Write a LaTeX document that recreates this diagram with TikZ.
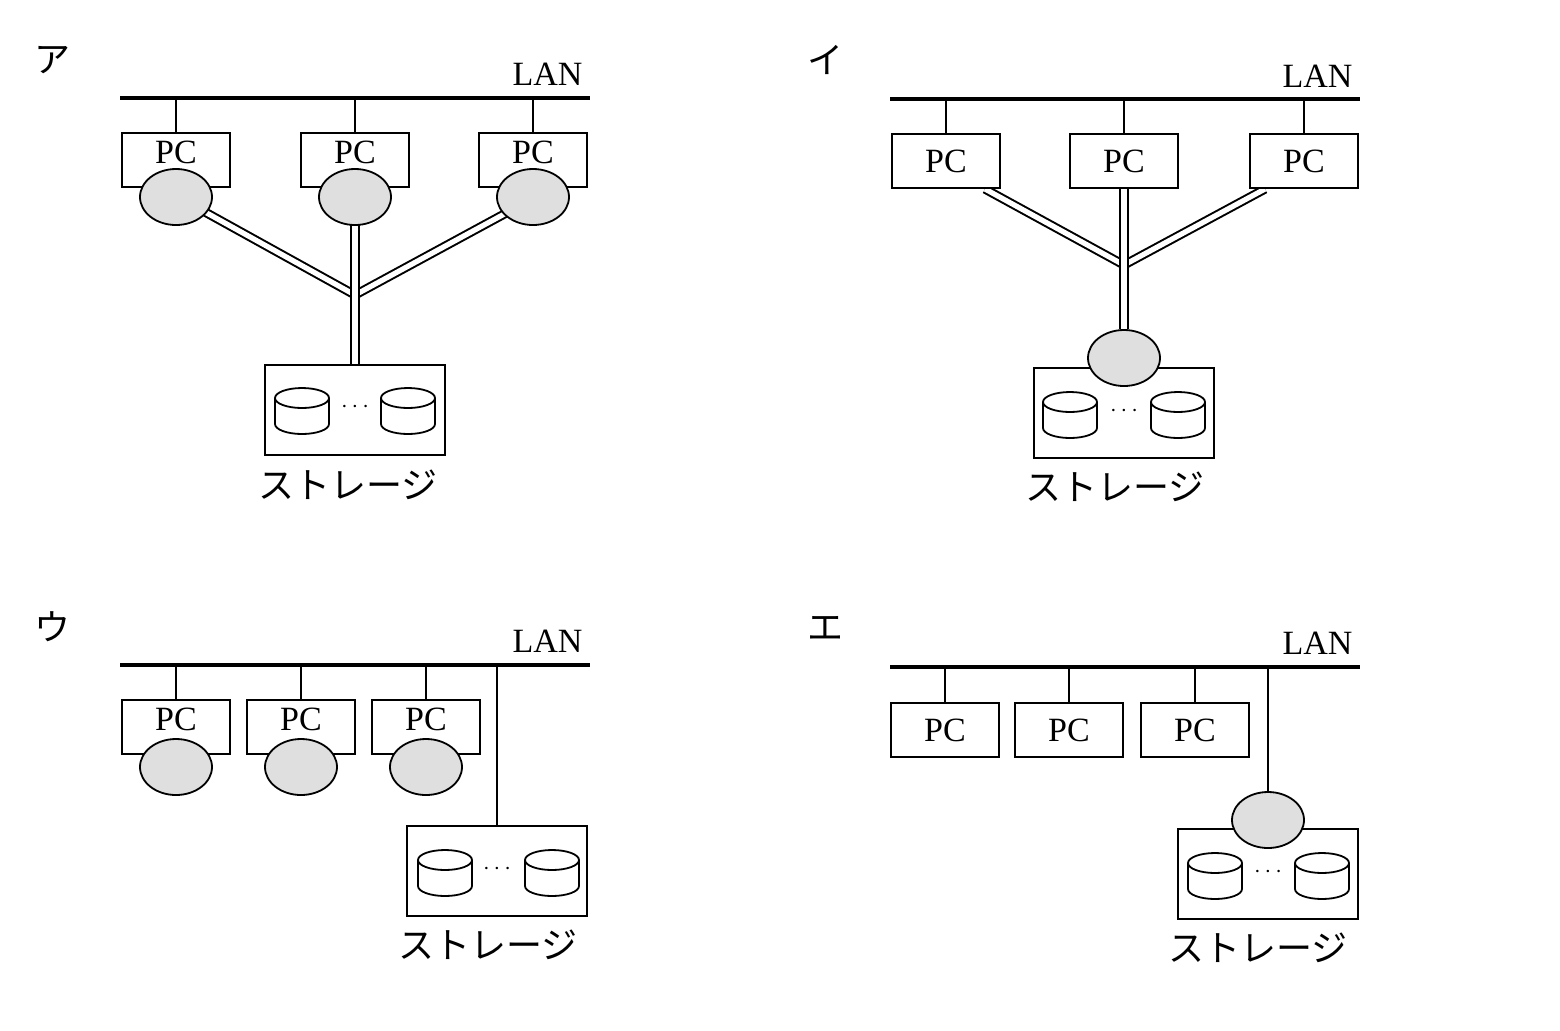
\documentclass[tikz,border=0pt]{standalone}
\usepackage{fontspec}
\setmainfont{Liberation Serif}
\newfontfamily\jp{Noto Sans CJK JP}
\usetikzlibrary{shapes.geometric}
\begin{document}
\begin{tikzpicture}[x=0.5pt,y=-0.5pt,line width=0.9pt,
  lan/.style={line width=1.8pt},
  pcb/.style={draw,fill=white,minimum width=54pt,minimum height=27pt,inner sep=0pt},
  stb/.style={draw,fill=white,minimum width=90pt,minimum height=45pt,inner sep=0pt},
  ctl/.style={ellipse,draw,fill=gray!25,minimum width=36pt,minimum height=28pt,inner sep=0pt},
  dbl/.style={double distance=2.6pt,line width=1pt},
  pct/.style={font=\fontsize{17}{17}\selectfont},
  jpt/.style={font=\jp\fontsize{18}{18}\selectfont},
  dts/.style={font=\fontsize{12}{12}\selectfont\bfseries},
  cyl/.pic={\draw[fill=white,line width=0.9pt] (-27,-12) -- (-27,14) arc[start angle=180,end angle=0,x radius=27,y radius=10] -- (27,-12);
            \draw[fill=white,line width=0.9pt] (0,-12) ellipse[x radius=27,y radius=10];}]
\useasboundingbox (0,0) rectangle (1560,1030);
% ---------- A ----------
\node[jpt] (la) at (52,60) {ア};
\coordinate (A0) at (120,98); \coordinate (A1) at (590,98);
\draw[lan] (A0) -- (A1);
\node[pct,anchor=east] (lanA) at (590,74) {LAN};
\foreach \i/\x in {1/176,2/355,3/533}{
  \coordinate (at\i) at (\x,98);
  \node[pcb] (ap\i) at (\x,160) {};
  \draw (at\i) -- (ap\i.north);
  \node[pct] (apt\i) at (\x,152) {PC};
}
\node[stb] (as) at (355,410) {};
\coordinate (aj) at (355,295);
\draw[dbl] (205,212) -- (aj);
\draw[dbl] (508,212) -- (aj);
\draw[dbl] (355,215) -- (as.north);
\foreach \i/\x in {1/176,2/355,3/533}{\node[ctl] (ae\i) at (\x,197) {};}
\pic at (302,410) {cyl}; \pic at (408,410) {cyl};
\node[dts] (ad) at (355,407) {$\cdots$};
\node[jpt] (asl) at (348,485) {ストレージ};
% ---------- I ----------
\node[jpt] (li) at (825,60) {イ};
\coordinate (I0) at (890,99); \coordinate (I1) at (1360,99);
\draw[lan] (I0) -- (I1);
\node[pct,anchor=east] (lanI) at (1360,76) {LAN};
\node[stb] (is) at (1124,413) {};
\node[ctl] (ie) at (1124,358) {};
\coordinate (ij) at (1124,265);
\draw[dbl] (985,189) -- (ij);
\draw[dbl] (1265,189) -- (ij);
\draw[dbl] (1124,189) -- (ie.north);
\foreach \i/\x in {1/946,2/1124,3/1304}{
  \coordinate (it\i) at (\x,99);
  \node[pcb,pct] (ip\i) at (\x,161) {PC};
  \draw (it\i) -- (ip\i.north);
}
\pic at (1070,414) {cyl}; \pic at (1178,414) {cyl};
\node[dts] (id) at (1124,411) {$\cdots$};
\node[jpt] (isl) at (1115,487) {ストレージ};
% ---------- U ----------
\node[jpt] (lu) at (52,627) {ウ};
\coordinate (U0) at (120,665); \coordinate (U1) at (590,665);
\draw[lan] (U0) -- (U1);
\node[pct,anchor=east] (lanU) at (590,641) {LAN};
\foreach \i/\x in {1/176,2/301,3/426}{
  \coordinate (ut\i) at (\x,665);
  \node[pcb] (up\i) at (\x,727) {};
  \draw (ut\i) -- (up\i.north);
  \node[pct] (upt\i) at (\x,719) {PC};
  \node[ctl] (ue\i) at (\x,767) {};
}
\node[stb] (us) at (497,871) {};
\coordinate (uj) at (497,665);
\draw (uj) -- (us.north);
\pic at (445,872) {cyl}; \pic at (552,872) {cyl};
\node[dts] (ud) at (497,869) {$\cdots$};
\node[jpt] (usl) at (488,945) {ストレージ};
% ---------- E ----------
\node[jpt] (le) at (825,628) {エ};
\coordinate (E0) at (890,667); \coordinate (E1) at (1360,667);
\draw[lan] (E0) -- (E1);
\node[pct,anchor=east] (lanE) at (1360,643) {LAN};
\foreach \i/\x in {1/945,2/1069,3/1195}{
  \coordinate (et\i) at (\x,667);
  \node[pcb,pct] (ep\i) at (\x,730) {PC};
  \draw (et\i) -- (ep\i.north);
}
\node[stb] (es) at (1268,874) {};
\node[ctl] (ee) at (1268,820) {};
\coordinate (ej) at (1268,667);
\draw (ej) -- (ee.north);
\pic at (1215,875) {cyl}; \pic at (1322,875) {cyl};
\node[dts] (ed) at (1268,872) {$\cdots$};
\node[jpt] (esl) at (1258,948) {ストレージ};
\end{tikzpicture}
\end{document}
